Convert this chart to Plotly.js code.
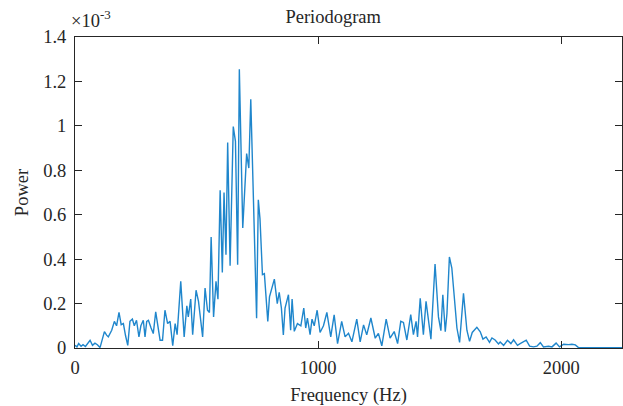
<!DOCTYPE html>
<html>
<head>
<meta charset="utf-8">
<script src="https://cdn.plot.ly/plotly-3.0.1.min.js"></script>
<style>html,body{margin:0;padding:0;background:#fff;}#chart{width:623px;height:406px;}</style>
</head>
<body>
<div id="chart"></div>
<script>
// Frequency (Hz)
var freq = [0,8,15,25,33,43,62,72,82,92,103,110,121,130,137,151,162,171,181,190,199,208,217,226,236,244,253,263,271,281,288,295,302,313,322,332,343,350,360,370,381,391,402,412,420,435,449,460,466,476,484,498,508,517,525,535,545,553,560,570,580,588,597,606,613,621,628,638,651,660,669,676,690,706,715,723,747,754,761,771,779,793,800,820,832,840,849,857,864,878,887,893,902,915,929,941,949,956,967,975,984,996,1008,1022,1036,1052,1066,1080,1097,1111,1125,1139,1159,1173,1187,1200,1217,1235,1248,1262,1280,1296,1313,1327,1340,1351,1365,1381,1392,1403,1409,1420,1433,1444,1454,1464,1481,1495,1505,1513,1523,1530,1540,1550,1571,1582,1598,1612,1623,1634,1653,1667,1678,1691,1705,1715,1728,1742,1749,1763,1779,1793,1804,1820,1831,1845,1856,1870,1886,1900,1914,1927,1948,1962,1979,1993,2010,2030,2044,2058,2071,2100,2150,2200,2250];
// Power, in units of 1e-3
var powerE3 = [0.012,0.005,0.02,0.008,0.015,0.007,0.035,0.012,0.022,0.015,0.002,0.035,0.074,0.058,0.05,0.08,0.12,0.1,0.16,0.105,0.11,0.055,0.012,0.12,0.13,0.1,0.125,0.05,0.1,0.125,0.05,0.12,0.125,0.09,0.065,0.163,0.09,0.035,0.035,0.17,0.11,0.12,0.01,0.11,0.06,0.30,0.05,0.19,0.14,0.22,0.06,0.26,0.21,0.12,0.05,0.27,0.17,0.16,0.50,0.14,0.30,0.22,0.71,0.34,0.70,0.42,0.925,0.37,0.997,0.93,0.375,1.255,0.54,0.875,0.81,1.12,0.134,0.667,0.58,0.33,0.335,0.12,0.23,0.31,0.2,0.25,0.18,0.059,0.18,0.24,0.08,0.22,0.075,0.11,0.1,0.18,0.09,0.135,0.06,0.13,0.1,0.17,0.07,0.1,0.16,0.05,0.149,0.02,0.12,0.05,0.066,0.028,0.13,0.028,0.104,0.059,0.135,0.044,0.066,0.01,0.13,0.044,0.074,0.02,0.12,0.115,0.036,0.15,0.06,0.12,0.05,0.224,0.06,0.21,0.126,0.04,0.378,0.14,0.078,0.24,0.073,0.155,0.41,0.36,0.09,0.025,0.246,0.08,0.03,0.07,0.093,0.073,0.04,0.05,0.025,0.045,0.036,0.018,0.027,0.012,0.035,0.02,0.037,0.012,0.02,0.027,0.035,0.008,0.005,0.008,0.024,0.005,0.008,0.005,0.022,0.005,0.017,0.015,0.017,0.014,0.002,0.001,0.002,0.001,0.001];

var xTicks = [0, 1000, 2000];
var yTicks = [0, 0.2, 0.4, 0.6, 0.8, 1, 1.2, 1.4];
var yTickText = ['0','0.2','0.4','0.6','0.8','1','1.2','1.4'];

var FONT = 'Liberation Serif, DejaVu Serif, serif';
var AX = '#262626';
var FS = 18.5;

var trace = {
  x: freq, y: powerE3, type: 'scatter', mode: 'lines',
  line: {color: '#1f86cc', width: 1.4},
  hoverinfo: 'skip'
};

var layout = {
  width: 623, height: 406,
  margin: {l: 75, r: 1, t: 37, b: 58},
  paper_bgcolor: '#fff', plot_bgcolor: '#fff',
  showlegend: false,
  font: {family: FONT, size: FS, color: AX},
  title: {text: 'Periodogram', x: 0.472, xref: 'paper', xanchor: 'center',
          y: 1 - 17/406, yref: 'container', yanchor: 'middle',
          font: {family: FONT, size: FS, color: AX}},
  xaxis: {
    range: [0, 2250], tickvals: xTicks, ticktext: xTicks.map(String),
    ticks: 'inside', ticklen: 7, tickwidth: 1, tickcolor: AX,
    showline: true, linecolor: AX, linewidth: 1, mirror: 'allticks',
    showgrid: false, zeroline: false, ticklabelstandoff: 3,
    tickfont: {family: FONT, size: FS, color: AX},
    title: {text: 'Frequency (Hz)', standoff: 10, font: {family: FONT, size: FS, color: AX}}
  },
  yaxis: {
    range: [0, 1.4], tickvals: yTicks, ticktext: yTickText,
    ticks: 'inside', ticklen: 7, tickwidth: 1, tickcolor: AX,
    showline: true, linecolor: AX, linewidth: 1, mirror: 'allticks',
    showgrid: false, zeroline: false, ticklabelstandoff: 4,
    tickfont: {family: FONT, size: FS, color: AX},
    title: {text: 'Power', standoff: 9, font: {family: FONT, size: FS, color: AX}}
  },
  annotations: [{
    text: '×10<sup>-3</sup>', xref: 'paper', yref: 'paper', x: 0, y: 1,
    xanchor: 'left', yanchor: 'bottom', yshift: 4, xshift: -6, showarrow: false,
    font: {family: FONT, size: FS, color: AX}
  }]
};

Plotly.newPlot('chart', [trace], layout, {displayModeBar: false, staticPlot: true});
</script>
</body>
</html>
